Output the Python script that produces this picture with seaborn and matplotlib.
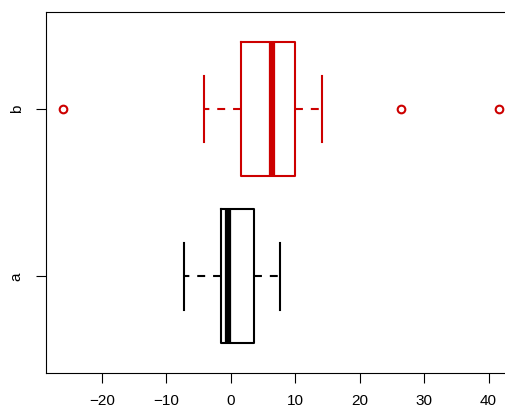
import matplotlib
matplotlib.use("Agg")
import matplotlib.pyplot as plt
import seaborn as sns
import pandas as pd

# Data
groups = ["b", "a"]
values_a = [-7.3, -1.6, -0.5, 3.6, 7.6]
values_b = [-26.0, -4.1, -1.0, 1.5, 3.2, 5.0, 6.4, 7.8, 9.1, 10.0, 14.2, 26.4, 41.6]
x_ticks = [-20, -10, 0, 10, 20, 30, 40]
colors = {"a": "black", "b": "#CD0000"}

df = pd.DataFrame({
    "group": ["a"] * len(values_a) + ["b"] * len(values_b),
    "value": values_a + values_b,
})

plt.rcParams["font.family"] = ["Liberation Sans", "DejaVu Sans"]
plt.rcParams["font.size"] = 11

fig = plt.figure(figsize=(5.05, 4.12), dpi=100)
ax = fig.add_axes([46 / 505, (412 - 373.3) / 412, (516.3 - 46) / 505, (373.3 - 12) / 412])

sns.boxplot(
    data=df, x="value", y="group", order=groups, hue="group",
    palette=colors, fill=False, width=0.8, linewidth=1.5, legend=False,
    whiskerprops={"linestyle": (0, (3.8, 3.8))},
    medianprops={"linewidth": 4.5, "solid_capstyle": "butt"},
    flierprops={"marker": "o", "markersize": 5.5, "markeredgewidth": 1.5,
                "markerfacecolor": "none"},
    ax=ax,
)

ax.set_xlim(-28.7, 44.3)
ax.set_ylim(1.58, -0.58)
ax.set_xticks(x_ticks)
ax.set_xticklabels([f"{t}".replace("-", "\u2212") for t in x_ticks])
ax.set_xlabel("")
ax.set_ylabel("")
for lbl in ax.get_yticklabels():
    lbl.set_rotation(90)
    lbl.set_va("center")
ax.tick_params(axis="both", length=7, width=0.8, color="black", labelsize=11)
ax.tick_params(axis="x", pad=8)
ax.tick_params(axis="y", pad=9)
for s in ax.spines.values():
    s.set_visible(True)
    s.set_color("black")
    s.set_linewidth(0.8)
ax.grid(False)
ax.set_facecolor("white")
fig.patch.set_facecolor("white")

fig.savefig("out.png", dpi=100)
